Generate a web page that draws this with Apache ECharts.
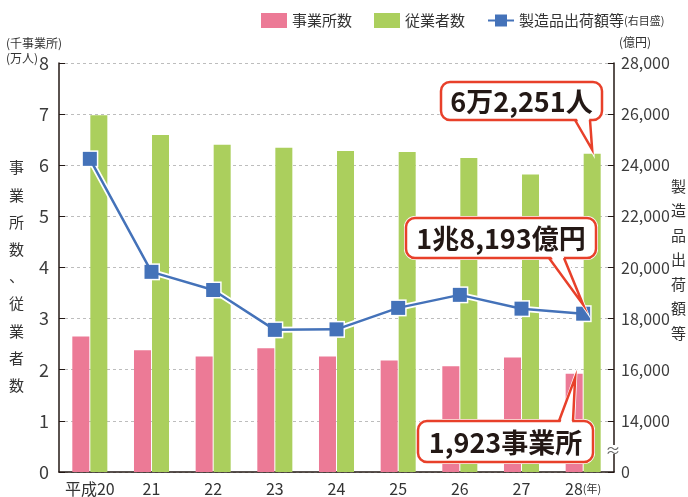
<!DOCTYPE html>
<html><head><meta charset="utf-8">
<script src="https://cdn.jsdelivr.net/npm/echarts@6/dist/echarts.min.js"></script>
<style>html,body{margin:0;padding:0;background:#fff}#c{width:688px;height:497px}</style>
</head><body><div id="c"></div>
<script>
const categories = ['平成20','21','22','23','24','25','26','27','28'];
const establishments = [2.65, 2.38, 2.26, 2.42, 2.26, 2.18, 2.07, 2.24, 1.923];   // 千事業所
const employees = [6.98, 6.59, 6.40, 6.34, 6.28, 6.26, 6.14, 5.82, 6.2251];       // 万人
const shipments = [24250, 19830, 19120, 17560, 17580, 18420, 18930, 18390, 18193]; // 億円
const leftTicks = [0,1,2,3,4,5,6,7,8];
const rightTickLabels = {12000:'0',14000:'14,000',16000:'16,000',18000:'18,000',20000:'20,000',22000:'22,000',24000:'24,000',26000:'26,000',28000:'28,000'};

const FONT = '"Noto Sans CJK JP","Noto Sans",sans-serif';
const PINK = '#ec7a96', GREEN = '#abcf5d', BLUE = '#4472b9', RED = '#e8402a';
const chart = echarts.init(document.getElementById('c'));
const last = categories.length - 1;

chart.setOption({
  animation: false,
  textStyle: {fontFamily: FONT},
  grid: {left: 59, right: 74, top: 63, bottom: 20},
  legend: {
    top: 8, left: 256, itemGap: 22, itemWidth: 26, itemHeight: 15,
    textStyle: {fontFamily: FONT, fontSize: 15, color: '#333',
      rich: {s: {fontSize: 11, color: '#333', fontFamily: FONT}}},
    data: [
      {name: '事業所数', icon: 'rect'},
      {name: '従業者数', icon: 'rect'},
      {name: '製造品出荷額等'}
    ],
    formatter: n => n === '製造品出荷額等' ? n + '{s|(右目盛)}' : n
  },
  xAxis: {
    type: 'category', data: categories,
    axisLine: {lineStyle: {color: '#231815', width: 1.5}},
    axisTick: {inside: true, length: 5, lineStyle: {color: '#231815'}},
    axisLabel: {interval: 0, fontSize: 16, color: '#333', margin: 9,
      formatter: (v, i) => i === last ? v + '{s|(年)}' : v,
      rich: {s: {fontSize: 11, color: '#333', fontFamily: FONT}}}
  },
  yAxis: [
    {type: 'value', min: 0, max: 8, interval: 1,
      axisLine: {show: true, lineStyle: {color: '#231815', width: 1.5}},
      axisTick: {show: true, inside: true, length: 6, lineStyle: {color: '#231815'}},
      axisLabel: {fontSize: 18, color: '#3c3c3c', margin: 10},
      splitLine: {show: true, lineStyle: {color: '#bdbdbd', type: [3, 3], width: 1}}},
    {type: 'value', min: 12000, max: 28000, interval: 2000,
      axisLine: {show: true, lineStyle: {color: '#231815', width: 1.5}},
      axisTick: {show: true, inside: true, length: 6, lineStyle: {color: '#231815'}},
      axisLabel: {fontSize: 16, color: '#3c3c3c', margin: 7,
        formatter: v => rightTickLabels[v] !== undefined ? rightTickLabels[v] : ''},
      splitLine: {show: false}}
  ],
  series: [
    {name: '事業所数', type: 'bar', data: establishments, barWidth: 17, barGap: '6%',
      itemStyle: {color: PINK}},
    {name: '従業者数', type: 'bar', data: employees, barWidth: 17,
      itemStyle: {color: GREEN}},
    {name: 'outline', type: 'line', yAxisIndex: 1, data: shipments, silent: true,
      symbol: 'rect', symbolSize: 17, itemStyle: {color: '#fff'},
      lineStyle: {color: '#fff', width: 6}, z: 3},
    {name: '製造品出荷額等', type: 'line', yAxisIndex: 1, data: shipments,
      symbol: 'rect', symbolSize: 14, itemStyle: {color: BLUE},
      lineStyle: {color: BLUE, width: 2.5}, z: 4}
  ]
});

function px(idx, val, axis) {
  return chart.convertToPixel({xAxisIndex: 0, yAxisIndex: axis}, [idx, val]);
}
const tipGreen = px(last, employees[last], 0);
const tipLine = px(last, shipments[last], 1);
const tipPink = px(last, establishments[last], 0);

function callout(box, text, baseL, baseR, tip, up) {
  const yEdge = up ? box.y : box.y + box.h;
  const inner = up ? 3 : -3;
  return [
    {type: 'rect', shape: {x: box.x - 2, y: box.y - 2, width: box.w + 4, height: box.h + 4, r: 11},
      style: {fill: '#fff'}, z: 100},
    {type: 'rect', shape: {x: box.x, y: box.y, width: box.w, height: box.h, r: 9},
      style: {fill: '#fff', stroke: RED, lineWidth: 2.5}, z: 101},
    {type: 'polygon', shape: {points: [[baseL, yEdge + inner], tip, [baseR, yEdge + inner]]},
      style: {fill: '#fff', stroke: '#fff', lineWidth: 4}, z: 100},
    {type: 'polygon', shape: {points: [[baseL + 1, yEdge + inner], tip, [baseR - 1, yEdge + inner]]},
      style: {fill: '#fff'}, z: 102},
    {type: 'polyline', shape: {points: [[baseL, yEdge], tip, [baseR, yEdge]]},
      style: {stroke: RED, lineWidth: 2.5, fill: null}, z: 103},
    {type: 'text', x: box.x + box.w / 2, y: box.y + box.h / 2 + 1,
      style: {text: text, fontFamily: FONT, fontSize: 27, fontWeight: 'bold', fill: '#231815',
        align: 'center', verticalAlign: 'middle'}, z: 104}
  ];
}

const g = [];
g.push(...callout({x: 441, y: 82, w: 161, h: 38}, '6万2,251人', 575, 590, [tipGreen[0] + 9, tipGreen[1] - 4], false));
g.push(...callout({x: 406, y: 218, w: 190, h: 40}, '1兆8,193億円', 549, 564, [tipLine[0], tipLine[1] - 9], false));
g.push(...callout({x: 418, y: 421, w: 175, h: 41}, '1,923事業所', 559, 573, [tipPink[0] - 8, tipPink[1] + 4], true));

g.push({type: 'text', left: 6, top: 36, style: {text: '(千事業所)\n(万人)', fontFamily: FONT, fontSize: 12, fill: '#333', lineHeight: 15}});
g.push({type: 'text', left: 619, top: 36, style: {text: '(億円)', fontFamily: FONT, fontSize: 12, fill: '#333'}});
g.push({type: 'text', left: 9, top: 154, style: {text: '事\n業\n所\n数\n、\n従\n業\n者\n数', fontFamily: FONT, fontSize: 15, fill: '#333', lineHeight: 27.2}});
g.push({type: 'text', left: 671, top: 174, style: {text: '製\n造\n品\n出\n荷\n額\n等', fontFamily: FONT, fontSize: 15, fill: '#333', lineHeight: 24.5}});
g.push({type: 'rect', shape: {x: 606, y: 445, width: 13, height: 9}, style: {fill: '#fff'}, z: 50});
g.push({type: 'text', x: 613, y: 450, style: {text: '≈', fontFamily: FONT, fontSize: 15, fill: '#666', align: 'center', verticalAlign: 'middle'}, z: 51});

chart.setOption({graphic: g});
</script></body></html>
